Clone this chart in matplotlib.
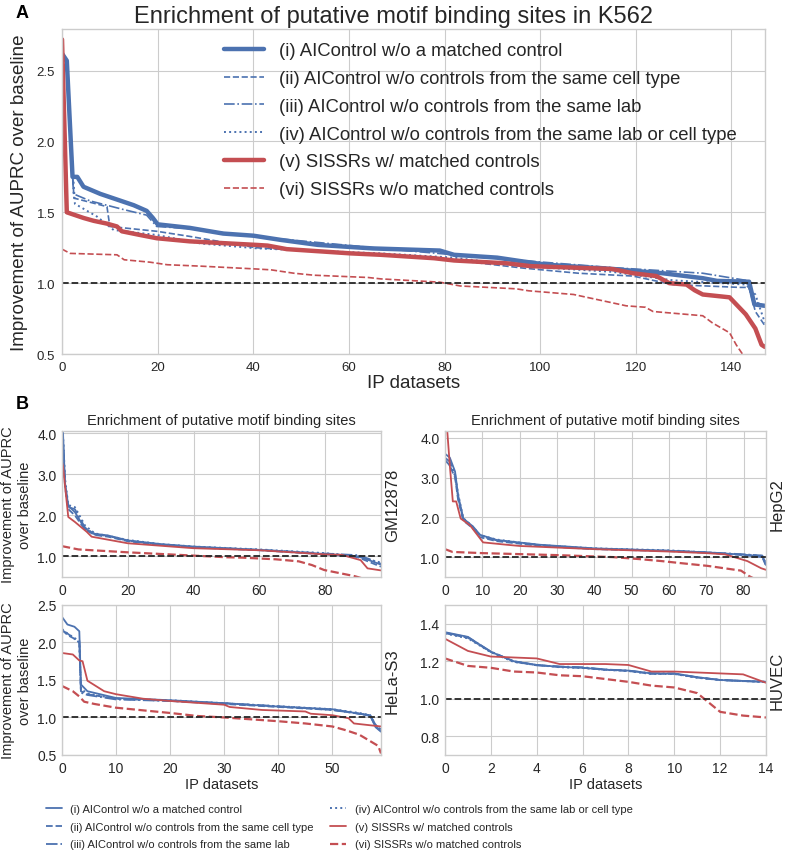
import numpy as np
import matplotlib
matplotlib.use('Agg')
import matplotlib.pyplot as plt

plt.style.use('seaborn-v0_8-whitegrid')
plt.rcParams['font.family'] = ['Liberation Sans', 'DejaVu Sans']
plt.rcParams['text.color'] = '0.15'
plt.rcParams['axes.labelcolor'] = '0.15'
plt.rcParams['xtick.color'] = '0.15'
plt.rcParams['ytick.color'] = '0.15'

BLUE = '#4C72B0'
RED = '#C44E52'

labels = [
    '(i) AIControl w/o a matched control',
    '(ii) AIControl w/o controls from the same cell type',
    '(iii) AIControl w/o controls from the same lab',
    '(iv) AIControl w/o controls from the same lab or cell type',
    '(v) SISSRs w/ matched controls',
    '(vi) SISSRs w/o matched controls',
]

# ---- K562 (panel A) ----
k562_i_x = [0, 1, 2.2, 3.2, 4.5, 8, 11.5, 15, 17.7, 19, 20, 26.7, 33.7, 40, 45.8, 53.5, 65, 79, 82, 91, 96, 101.4, 115, 125.6, 134, 137, 143.7, 144.8, 147]
k562_i_y = [2.62, 2.57, 1.75, 1.75, 1.68, 1.63, 1.59, 1.55, 1.51, 1.46, 1.415, 1.39, 1.35, 1.335, 1.305, 1.27, 1.245, 1.23, 1.2, 1.18, 1.155, 1.13, 1.10, 1.07, 1.035, 1.016, 1.01, 0.85, 0.84]
k562_ii_x = [0, 1, 2.5, 9.4, 10, 19.8, 26.7, 40.6, 48, 66.7, 80, 96.5, 108, 119.4, 127.8, 141.7, 143.7, 145, 147]
k562_ii_y = [2.6, 2.5, 1.6, 1.54, 1.40, 1.366, 1.33, 1.25, 1.235, 1.2, 1.17, 1.106, 1.07, 1.05, 0.99, 0.97, 0.97, 0.80, 0.70]
k562_iii_x = [0, 1, 2.4, 5.9, 12.8, 17.7, 19.8, 26.7, 40, 66.7, 82, 96, 115, 134, 143, 144.8, 147]
k562_iii_y = [2.6, 2.55, 1.63, 1.58, 1.52, 1.48, 1.40, 1.385, 1.33, 1.245, 1.2, 1.16, 1.11, 1.07, 1.02, 0.87, 0.84]
k562_iv_x = [0, 1, 2.7, 7.3, 10.8, 19.8, 29, 40.6, 48, 66.7, 82, 96, 115, 127.8, 143, 145, 147]
k562_iv_y = [2.58, 2.5, 1.56, 1.47, 1.375, 1.34, 1.28, 1.246, 1.235, 1.21, 1.18, 1.12, 1.08, 1.02, 0.99, 0.92, 0.72]
k562_v_x = [0, 1, 4.5, 6.6, 9.4, 11.5, 12.5, 16.3, 19.8, 26.7, 40.6, 43, 47, 60.4, 66.7, 77.8, 82, 93, 98, 115, 119.4, 124.3, 127, 130.6, 132.3, 134, 139.6, 143, 145, 146.3, 147]
k562_v_y = [2.72, 1.50, 1.46, 1.44, 1.42, 1.40, 1.366, 1.34, 1.317, 1.295, 1.27, 1.265, 1.24, 1.21, 1.2, 1.176, 1.16, 1.14, 1.12, 1.10, 1.07, 1.05, 1.0, 0.99, 0.95, 0.92, 0.90, 0.78, 0.68, 0.565, 0.55]
k562_vi_x = [0, 1.7, 11.5, 13, 18.4, 22, 29, 40.6, 43.7, 48.5, 52.7, 64, 66.7, 79, 83.3, 95, 97.6, 107, 112.5, 118, 122, 123.6, 134, 136, 139.6, 141, 142.3, 143]
k562_vi_y = [1.24, 1.21, 1.2, 1.165, 1.148, 1.13, 1.12, 1.10, 1.094, 1.07, 1.056, 1.04, 1.03, 1.007, 0.98, 0.96, 0.946, 0.92, 0.88, 0.84, 0.83, 0.80, 0.77, 0.72, 0.65, 0.565, 0.5, 0.45]

# ---- GM12878 ----
gm_x = [0, 0.3, 0.9, 1.9, 3.9, 7, 10, 14, 20, 30, 40, 60, 80, 85, 90, 93, 97]
gm_i_y = [4.05, 4.0, 2.8, 2.23, 2.08, 1.67, 1.55, 1.51, 1.39, 1.3, 1.24, 1.16, 1.06, 1.03, 1.0, 0.92, 0.8]
gm_ii_y = [4.0, 3.8, 2.7, 2.15, 2.0, 1.65, 1.52, 1.48, 1.37, 1.28, 1.22, 1.15, 1.05, 1.02, 0.98, 0.88, 0.75]
gm_iii_y = [4.05, 3.9, 2.75, 2.2, 2.15, 1.7, 1.53, 1.5, 1.38, 1.29, 1.23, 1.16, 1.07, 1.05, 1.03, 0.95, 0.82]
gm_iv_y = [4.1, 3.95, 2.9, 2.25, 2.2, 1.75, 1.56, 1.5, 1.4, 1.3, 1.24, 1.17, 1.08, 1.04, 1.0, 0.93, 0.85]
gm_v_x = [0, 0.3, 1.9, 3.9, 7.5, 9, 20, 30, 40, 60, 80, 85, 90.8, 92.9, 97]
gm_v_y = [3.3, 3.19, 1.96, 1.84, 1.6, 1.48, 1.32, 1.26, 1.2, 1.15, 1.05, 1.04, 0.91, 0.71, 0.66]
gm_vi_x = [0, 5, 20, 40, 50, 55, 65, 72, 76, 79.7, 89, 92]
gm_vi_y = [1.25, 1.17, 1.1, 1.02, 0.98, 0.97, 0.93, 0.88, 0.79, 0.67, 0.52, 0.45]

# ---- HepG2 ----
hep_x = [0, 1.3, 2.7, 3.5, 4.9, 7.5, 9.4, 13.9, 25.5, 40, 60, 70, 80, 85, 86]
hep_i_y = [3.6, 3.5, 3.15, 2.56, 1.97, 1.77, 1.56, 1.43, 1.31, 1.22, 1.16, 1.12, 1.06, 1.02, 0.8]
hep_ii_y = [3.45, 3.3, 3.0, 2.45, 1.92, 1.72, 1.5, 1.4, 1.28, 1.2, 1.15, 1.11, 1.05, 1.0, 0.78]
hep_iii_y = [3.5, 3.4, 3.1, 2.5, 1.95, 1.75, 1.53, 1.42, 1.3, 1.21, 1.16, 1.12, 1.07, 1.04, 0.85]
hep_iv_y = [3.4, 3.3, 3.05, 2.6, 1.98, 1.76, 1.55, 1.44, 1.3, 1.22, 1.17, 1.12, 1.06, 1.03, 0.82]
hep_v_x = [0, 0.6, 1.3, 2.1, 3, 4.2, 6.7, 10.2, 16.6, 20, 40, 60, 70, 75, 81, 84.7, 86]
hep_v_y = [4.5, 4.18, 3.3, 2.4, 2.4, 1.97, 1.8, 1.37, 1.31, 1.28, 1.2, 1.14, 1.1, 1.07, 0.9, 0.72, 0.68]
hep_vi_x = [0, 2, 10, 30, 45, 52, 58, 63, 70.3, 79.3, 81.5, 83]
hep_vi_y = [1.2, 1.13, 1.1, 1.05, 1.0, 0.95, 0.9, 0.85, 0.78, 0.66, 0.52, 0.45]

# ---- HeLa-S3 ----
hela_x = [0, 1, 2.3, 3.2, 3.5, 4.7, 10, 20, 30, 40, 50, 55, 57, 58, 59]
hela_i_y = [2.34, 2.24, 2.21, 2.15, 1.44, 1.35, 1.26, 1.23, 1.19, 1.145, 1.11, 1.05, 1.03, 0.87, 0.81]
hela_ii_y = [2.17, 2.1, 2.05, 2.0, 1.35, 1.31, 1.25, 1.22, 1.18, 1.14, 1.1, 1.05, 1.02, 0.88, 0.82]
hela_iii_y = [2.16, 2.12, 2.05, 2.0, 1.33, 1.3, 1.24, 1.22, 1.19, 1.15, 1.1, 1.05, 1.03, 0.9, 0.84]
hela_iv_y = [2.18, 2.12, 2.06, 2.02, 1.38, 1.32, 1.25, 1.23, 1.19, 1.15, 1.11, 1.06, 1.03, 0.9, 0.83]
hela_v_x = [0, 2, 3.2, 3.8, 4.7, 7.8, 10, 15, 20, 30, 31, 37, 45, 46, 50, 53, 54, 59]
hela_v_y = [1.86, 1.84, 1.76, 1.75, 1.49, 1.35, 1.31, 1.25, 1.22, 1.17, 1.14, 1.10, 1.08, 1.05, 1.03, 0.99, 0.92, 0.88]
hela_vi_x = [0, 2, 3.2, 4.1, 6, 10, 20, 25, 30, 40, 45, 50, 52.5, 55, 57.8, 58.5, 59]
hela_vi_y = [1.42, 1.35, 1.28, 1.21, 1.18, 1.13, 1.06, 1.02, 1.0, 0.95, 0.92, 0.88, 0.83, 0.77, 0.65, 0.62, 0.52]

# ---- HUVEC ----
huvec_x = list(range(15))
huvec_i_y = [1.355, 1.33, 1.25, 1.2, 1.18, 1.17, 1.165, 1.155, 1.15, 1.135, 1.135, 1.115, 1.1, 1.095, 1.09]
huvec_ii_y = [1.35, 1.325, 1.25, 1.2, 1.18, 1.17, 1.165, 1.155, 1.148, 1.133, 1.133, 1.113, 1.1, 1.095, 1.09]
huvec_iii_y = [1.352, 1.328, 1.252, 1.198, 1.178, 1.172, 1.168, 1.156, 1.15, 1.136, 1.134, 1.114, 1.1, 1.094, 1.09]
huvec_iv_y = [1.348, 1.322, 1.248, 1.196, 1.18, 1.168, 1.164, 1.154, 1.148, 1.132, 1.132, 1.112, 1.1, 1.094, 1.09]
huvec_v_y = [1.32, 1.255, 1.225, 1.22, 1.215, 1.185, 1.185, 1.185, 1.18, 1.145, 1.145, 1.14, 1.135, 1.13, 1.085]
huvec_vi_y = [1.215, 1.175, 1.165, 1.145, 1.14, 1.125, 1.12, 1.105, 1.09, 1.07, 1.06, 1.03, 0.93, 0.91, 0.9]

styles = [
    dict(color=BLUE, ls='-'),
    dict(color=BLUE, ls='--'),
    dict(color=BLUE, ls='-.'),
    dict(color=BLUE, ls=':'),
    dict(color=RED, ls='-'),
    dict(color=RED, ls='--'),
]

fig = plt.figure(figsize=(7.88, 8.54), dpi=100)

# ---------------- Panel A ----------------
axA = fig.add_axes([0.0787, 0.5843, 0.892, 0.380])
a_series = [(k562_i_x, k562_i_y), (k562_ii_x, k562_ii_y), (k562_iii_x, k562_iii_y),
            (k562_iv_x, k562_iv_y), (k562_v_x, k562_v_y), (k562_vi_x, k562_vi_y)]
a_lw = [3.2, 1.2, 1.2, 1.4, 3.2, 1.2]
for (xs, ys), st, lw, lab in zip(a_series, styles, a_lw, labels):
    axA.plot(xs, ys, color=st['color'], linestyle=st['ls'], lw=lw, label=lab)
axA.axhline(1.0, color='0.15', ls='--', lw=1.3)
axA.set_xlim(0, 147)
axA.set_ylim(0.5, 2.79)
axA.set_xticks(range(0, 141, 20))
axA.set_yticks([0.5, 1.0, 1.5, 2.0, 2.5])
axA.tick_params(labelsize=9.5, pad=5)
axA.set_xlabel('IP datasets', fontsize=13.5, labelpad=1)
axA.set_ylabel('Improvement of AUPRC over baseline', fontsize=13.5, labelpad=6)
axA.legend(loc='upper left', bbox_to_anchor=(0.23, 0.96), fontsize=13.3,
           frameon=False, labelspacing=0.58, handlelength=2.2, handletextpad=0.8,
           borderaxespad=0, borderpad=0)
fig.text(0.5, 1 - 17 / 854, 'Enrichment of putative motif binding sites in K562',
         ha='center', va='center', fontsize=17)
fig.text(22 / 788, 1 - 14 / 854, 'A', fontsize=13, fontweight='bold', ha='center', va='center', color='k')
fig.text(22 / 788, 1 - 405 / 854, 'B', fontsize=13, fontweight='bold', ha='center', va='center', color='k')

# ---------------- Panel B ----------------
panels = [
    ('GM12878', [0.0787, 0.3232, 0.4048, 0.1709],
     [(gm_x, gm_i_y), (gm_x, gm_ii_y), (gm_x, gm_iii_y), (gm_x, gm_iv_y), (gm_v_x, gm_v_y), (gm_vi_x, gm_vi_y)],
     (0, 97), (0.5, 4.05), list(range(0, 81, 20)), [1.0, 2.0, 3.0, 4.0]),
    ('HepG2', [0.5647, 0.3232, 0.4074, 0.1709],
     [(hep_x, hep_i_y), (hep_x, hep_ii_y), (hep_x, hep_iii_y), (hep_x, hep_iv_y), (hep_v_x, hep_v_y), (hep_vi_x, hep_vi_y)],
     (0, 86), (0.5, 4.17), list(range(0, 81, 10)), [1.0, 2.0, 3.0, 4.0]),
    ('HeLa-S3', [0.0787, 0.1148, 0.4048, 0.1756],
     [(hela_x, hela_i_y), (hela_x, hela_ii_y), (hela_x, hela_iii_y), (hela_x, hela_iv_y), (hela_v_x, hela_v_y), (hela_vi_x, hela_vi_y)],
     (0, 59), (0.5, 2.5), list(range(0, 51, 10)), [0.5, 1.0, 1.5, 2.0, 2.5]),
    ('HUVEC', [0.5647, 0.1148, 0.4074, 0.1756],
     [(huvec_x, huvec_i_y), (huvec_x, huvec_ii_y), (huvec_x, huvec_iii_y), (huvec_x, huvec_iv_y), (huvec_x, huvec_v_y), (huvec_x, huvec_vi_y)],
     (0, 14), (0.7, 1.5), list(range(0, 15, 2)), [0.8, 1.0, 1.2, 1.4]),
]
b_lw = [1.3, 1.3, 1.3, 1.4, 1.3, 1.6]
handles = []
for idx, (cell, rect, series, xl, yl, xt, yt) in enumerate(panels):
    ax = fig.add_axes(rect)
    hs = []
    for (xs, ys), st, lw, lab in zip(series, styles, b_lw, labels):
        h, = ax.plot(xs, ys, color=st['color'], linestyle=st['ls'], lw=lw, label=lab)
        hs.append(h)
    if idx == 0:
        handles = hs
    ax.axhline(1.0, color='0.15', ls='--', lw=1.3)
    ax.set_xlim(*xl)
    ax.set_ylim(*yl)
    ax.set_xticks(xt)
    ax.set_yticks(yt)
    ax.yaxis.set_major_formatter(matplotlib.ticker.FormatStrFormatter('%.1f'))
    ax.tick_params(labelsize=10, pad=4)
    ax.text(1.035, 0.5, cell, transform=ax.transAxes, rotation=90,
            ha='center', va='center', fontsize=12)
    if idx < 2:
        ax.set_title('Enrichment of putative motif binding sites', fontsize=10.5, pad=5)
    else:
        ax.set_xlabel('IP datasets', fontsize=10.5, labelpad=2)
    if idx % 2 == 0:
        ax.set_ylabel('Improvement of AUPRC\nover baseline', fontsize=10.5, labelpad=4)

fig.legend(handles, labels, loc='upper left', bbox_to_anchor=(0.058, 0.057), ncol=2,
           frameon=False, fontsize=8,
           handlelength=1.45, handletextpad=0.75, columnspacing=1.5, labelspacing=0.68,
           borderaxespad=0, borderpad=0)

fig.savefig('out.png', dpi=100)
